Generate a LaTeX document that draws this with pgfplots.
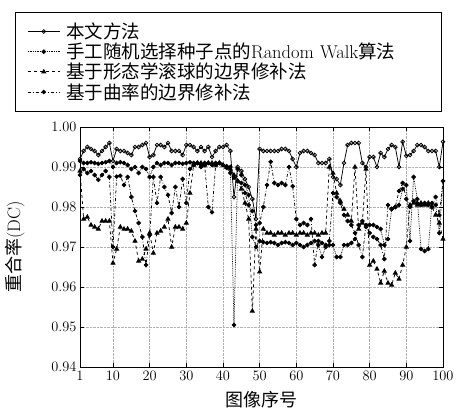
\documentclass[border=0pt]{standalone}
\usepackage{fontspec}
\newfontfamily\cjk{Noto Sans CJK SC}
\usepackage{pgfplots}
\pgfplotsset{compat=1.18}
\usepackage{pgfplotstable}

% x s1(本文) s2(Random Walk) s3(滚球) s4(曲率)
\pgfplotstableread{
x s1 s2 s3 s4
1 0.992 0.9915 0.989 0.988
2 0.994 0.991 0.977 0.9895
3 0.995 0.991 0.9775 0.9885
4 0.9945 0.9912 0.9755 0.989
5 0.994 0.991 0.975 0.988
6 0.993 0.9908 0.9745 0.9868
7 0.994 0.991 0.9765 0.988
8 0.995 0.9912 0.9765 0.989
9 0.996 0.9915 0.9765 0.9875
10 0.9915 0.990 0.966 0.970
11 0.9945 0.991 0.9695 0.9876
12 0.994 0.9912 0.975 0.9878
13 0.994 0.991 0.9745 0.9855
14 0.9935 0.9905 0.9745 0.9875
15 0.993 0.9895 0.974 0.9825
16 0.995 0.990 0.9715 0.979
17 0.995 0.9885 0.9665 0.976
18 0.9955 0.990 0.967 0.9725
19 0.996 0.9895 0.9695 0.9655
20 0.9925 0.9875 0.9735 0.973
21 0.993 0.990 0.9685 0.9875
22 0.9955 0.991 0.9735 0.981
23 0.9955 0.9905 0.974 0.9875
24 0.995 0.991 0.975 0.985
25 0.996 0.991 0.977 0.983
26 0.994 0.9905 0.970 0.9785
27 0.994 0.991 0.975 0.985
28 0.994 0.991 0.975 0.980
29 0.993 0.9908 0.9745 0.987
30 0.9955 0.991 0.976 0.981
31 0.9955 0.9912 0.9835 0.9895
32 0.995 0.991 0.9905 0.9905
33 0.994 0.991 0.991 0.991
34 0.995 0.9905 0.991 0.990
35 0.994 0.991 0.9905 0.9905
36 0.995 0.991 0.991 0.980
37 0.9925 0.9905 0.991 0.9787
38 0.994 0.991 0.9905 0.9905
39 0.995 0.991 0.991 0.991
40 0.995 0.9905 0.9905 0.9905
41 0.9955 0.9902 0.990 0.9898
42 0.994 0.990 0.9895 0.9885
43 0.9825 0.9505 0.988 0.9873
44 0.990 0.9895 0.9865 0.9865
45 0.989 0.988 0.9845 0.986
46 0.987 0.9855 0.981 0.9835
47 0.985 0.983 0.977 0.9805
48 0.982 0.9725 0.954 0.979
49 0.977 0.970 0.9745 0.9755
50 0.9945 0.9715 0.9638 0.976
51 0.994 0.9712 0.9745 0.980
52 0.994 0.971 0.9735 0.9855
53 0.994 0.9712 0.9735 0.9913
54 0.994 0.971 0.973 0.986
55 0.994 0.9705 0.9735 0.9855
56 0.9945 0.971 0.9735 0.986
57 0.9945 0.9712 0.973 0.9855
58 0.994 0.971 0.9735 0.990
59 0.992 0.9705 0.9735 0.9852
60 0.990 0.971 0.973 0.977
61 0.9935 0.9705 0.9735 0.9755
62 0.994 0.970 0.9735 0.976
63 0.994 0.9705 0.973 0.9755
64 0.9935 0.971 0.9735 0.977
65 0.993 0.9715 0.9735 0.9655
66 0.991 0.9705 0.973 0.9715
67 0.991 0.9675 0.9735 0.971
68 0.991 0.970 0.9735 0.9705
69 0.992 0.9705 0.990 0.9715
70 0.9875 0.9705 0.9885 0.9835
71 0.987 0.9675 0.9835 0.9825
72 0.9855 0.9675 0.9815 0.981
73 0.991 0.9705 0.9795 0.978
74 0.9955 0.9705 0.978 0.9765
75 0.996 0.971 0.9765 0.9755
76 0.996 0.972 0.990 0.9735
77 0.996 0.9755 0.9745 0.9705
78 0.991 0.9765 0.976 0.9675
79 0.990 0.975 0.9895 0.9755
80 0.9925 0.9755 0.9655 0.9735
81 0.9925 0.9755 0.9665 0.9725
82 0.990 0.975 0.9645 0.972
83 0.9935 0.9745 0.961 0.9705
84 0.9925 0.9705 0.964 0.967
85 0.9945 0.972 0.961 0.9805
86 0.9955 0.9795 0.9605 0.9795
87 0.995 0.980 0.9635 0.980
88 0.990 0.9805 0.962 0.984
89 0.9963 0.9845 0.9655 0.986
90 0.9928 0.9855 0.970 0.982
91 0.993 0.9715 0.9805 0.980
92 0.994 0.9875 0.981 0.9815
93 0.9955 0.982 0.9805 0.981
94 0.9955 0.9695 0.981 0.9805
95 0.995 0.969 0.9805 0.981
96 0.994 0.9695 0.981 0.9805
97 0.994 0.981 0.980 0.980
98 0.994 0.9805 0.978 0.9825
99 0.990 0.9735 0.976 0.978
100 0.9963 0.9865 0.972 0.9865
}\dctable

\begin{document}
\begin{tikzpicture}
\useasboundingbox (-80pt,-46pt) rectangle (384pt,367pt);
\begin{axis}[
    at={(0pt,0pt)}, anchor=south west,
    scale only axis, width=363pt, height=240pt,
    xmin=1, xmax=100, ymin=0.94, ymax=1.00,
    xtick={1,10,20,30,40,50,60,70,80,90,100},
    ytick={0.94,0.95,0.96,0.97,0.98,0.99,1.00},
    yticklabel style={/pgf/number format/fixed,
        /pgf/number format/fixed zerofill,
        /pgf/number format/precision=2},
    scaled y ticks=false,
    grid=major,
    grid style={densely dotted, black!30},
    axis line style={line width=0.9pt},
    tick style={black, line width=0.6pt},
    major tick length=4pt,
    tick label style={font=\fontsize{15.5}{18}\selectfont},
    xticklabel style={yshift=-1pt},
    xlabel={\cjk 图像序号},
    ylabel={{\cjk 重合率}(DC)},
    label style={font=\fontsize{18}{22}\selectfont},
    xlabel style={at={(axis description cs:0.5,-0.135)}, anchor=center},
    ylabel style={at={(axis description cs:-0.18,0.5)}, anchor=center},
    legend style={at={(axis description cs:-0.179,1.0625)}, anchor=south west,
        draw=black, line width=0.8pt,
        font=\fontsize{18.5}{22}\selectfont,
        nodes={text width=357pt, inner xsep=6pt},
        inner xsep=12pt, inner ysep=9pt, row sep=-1pt},
    legend cell align=left,
    legend image code/.code={\draw[mark repeat=2,mark phase=2,#1]
        plot coordinates {(0pt,0pt) (16pt,0pt) (32pt,0pt)};},
    every axis plot/.append style={line width=0.75pt, black},
]
\addlegendimage{solid, mark=o, mark size=1.9pt, mark options={fill=white}}
\addlegendentry{\cjk 本文方法}
\addlegendimage{densely dotted, mark=*, mark size=1.9pt, mark options={solid}}
\addlegendentry{{\cjk 手工随机选择种子点的}Random Walk{\cjk 算法}}
\addlegendimage{dashed, mark=triangle*, mark size=2.3pt, mark options={solid}}
\addlegendentry{\cjk 基于形态学滚球的边界修补法}
\addlegendimage{dash dot, mark=*, mark size=1.9pt, mark options={solid}}
\addlegendentry{\cjk 基于曲率的边界修补法}

\addplot[forget plot, dashed, mark=triangle*, mark size=2.3pt, mark options={solid}]
    table[x=x, y=s3] {\dctable};
\addplot[forget plot, dash dot, mark=*, mark size=1.9pt, mark options={solid}]
    table[x=x, y=s4] {\dctable};
\addplot[forget plot, densely dotted, mark=*, mark size=1.9pt, mark options={solid}]
    table[x=x, y=s2] {\dctable};
\addplot[forget plot, solid, mark=o, mark size=1.9pt, mark options={fill=white}]
    table[x=x, y=s1] {\dctable};
\end{axis}
\end{tikzpicture}
\end{document}
